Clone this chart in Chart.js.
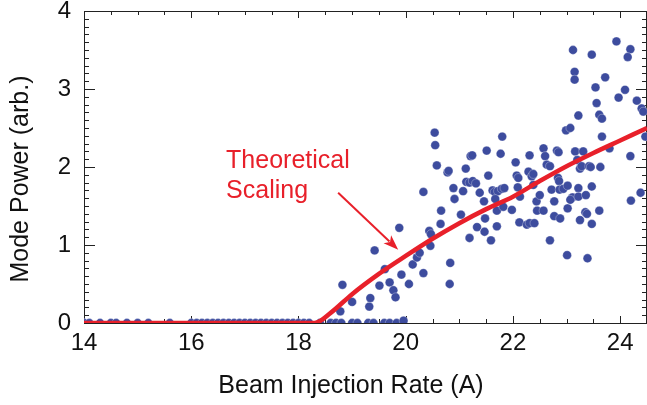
<!DOCTYPE html>
<html>
<head>
<meta charset="utf-8">
<script src="https://cdn.jsdelivr.net/npm/chart.js@4.4.1/dist/chart.umd.min.js"></script>
<style>
  html, body { margin: 0; padding: 0; background: #fff; }
  #wrap { width: 647px; height: 405px; position: relative; }
</style>
</head>
<body>
<div id="wrap"><canvas id="chart"></canvas></div>
<script>
// measured points, x = beam injection rate (A), y = mode power (arb.)
const zeroX = [14.0, 14.1, 14.3, 14.5, 14.6, 14.8, 15.0, 15.2, 15.6, 16.0, 16.1, 16.2, 16.3, 16.4, 16.5,
  16.6, 16.7, 16.8, 16.9, 17.0, 17.1, 17.2, 17.3, 17.4, 17.5, 17.6, 17.7, 17.8, 17.9, 18.0, 18.1, 18.2,
  18.4, 18.6, 18.7, 18.8, 19.0, 19.1, 19.3, 19.4, 19.6, 19.7, 19.83];
const zeroY = zeroX.map(() => 0);

const pointX = [19.96, 18.78, 18.82, 19.00, 19.32, 19.34, 19.42, 19.51, 19.61, 19.70, 19.77, 19.81, 19.88, 19.92,
  20.06, 20.13, 20.21, 20.26, 20.33, 20.33, 20.44, 20.47, 20.46, 20.54, 20.55, 20.58, 20.66, 20.65,
  20.78, 20.80, 20.83, 20.82, 20.89, 20.91, 21.03, 21.07, 21.12, 21.13, 21.19, 21.25, 21.31, 21.21,
  21.24, 21.19, 21.33, 21.38, 21.46, 21.47, 21.48, 21.51, 21.54, 21.59, 21.62, 21.66, 21.72, 21.79,
  21.67, 21.70, 21.70, 21.77, 21.80, 21.82, 21.84, 21.98, 22.05, 22.07, 22.10, 22.13, 22.09, 22.12,
  22.26, 22.31, 22.29, 22.31, 22.35, 22.38, 22.38, 22.40, 22.44, 22.45, 22.50, 22.57, 22.60, 22.57,
  22.63, 22.69, 22.69, 22.72, 22.77, 22.77, 22.82, 22.85, 22.84, 22.86, 22.87, 22.88, 22.94, 22.99,
  23.02, 23.01, 23.02, 23.07, 23.11, 23.07, 23.12, 23.15, 23.15, 23.16, 23.20, 23.22, 23.22, 23.22,
  23.25, 23.28, 23.25, 23.31, 23.35, 23.38, 23.36, 23.39, 23.42, 23.45, 23.47, 23.47, 23.47, 23.54,
  23.56, 23.61, 23.66, 23.63, 23.66, 23.61, 23.72, 23.80, 23.93, 23.97, 24.09, 24.19, 24.14, 24.19,
  24.20, 24.31, 24.40, 24.43, 24.38, 24.47];
const pointY = [0.03, 0.15, 0.49, 0.27, 0.21, 0.32, 0.93, 0.48, 0.69, 0.52, 0.42, 0.33, 1.22, 0.62,
  0.50, 0.75, 0.84, 0.90, 0.64, 1.68, 1.18, 1.14, 0.99, 2.44, 2.28, 2.02, 1.44, 1.27,
  1.93, 1.95, 0.77, 0.50, 1.73, 1.59, 1.39, 1.69, 1.98, 1.81, 1.80, 1.82, 1.79, 2.14,
  2.15, 1.09, 1.23, 1.67, 1.56, 1.17, 1.34, 2.21, 1.89, 1.06, 1.70, 1.68, 1.69, 1.72,
  1.59, 1.44, 1.24, 2.17, 2.39, 1.49, 1.73, 1.45, 2.06, 1.89, 1.86, 1.62, 1.74, 1.29,
  1.26, 1.28, 1.94, 2.15, 1.88, 1.91, 1.77, 1.28, 1.56, 1.44, 1.64, 2.24, 2.14, 1.44,
  2.03, 2.01, 1.06, 1.71, 1.56, 1.37, 2.21, 2.19, 1.86, 1.82, 1.71, 1.34, 1.72, 2.47,
  1.47, 0.87, 1.76, 2.50, 1.61, 1.58, 3.50, 3.22, 3.12, 2.20, 2.09, 1.73, 1.62, 2.66,
  1.98, 2.01, 1.32, 2.20, 1.42, 1.40, 1.64, 0.83, 2.01, 2.00, 1.75, 1.27, 3.44, 3.02,
  2.82, 2.67, 2.62, 2.00, 2.39, 1.44, 3.15, 2.24, 3.61, 2.89, 2.99, 3.51, 3.41, 2.14,
  1.57, 2.85, 2.75, 2.71, 1.67, 2.39];

// theoretical scaling curve
const curveX = [14, 18.3, 18.6, 19.0, 19.5, 20.0, 20.5, 21.0, 21.5, 22.0, 22.5, 23.0, 23.5, 24.0, 24.5];
const curveY = [0, 0, 0.13, 0.37, 0.63, 0.86, 1.08, 1.28, 1.46, 1.62, 1.82, 2.01, 2.18, 2.34, 2.5];

const xTickVals = [14, 16, 18, 20, 22, 24];
const yTickVals = [0, 1, 2, 3, 4];

const xTitle = "Beam Injection Rate (A)";
const yTitle = "Mode Power (arb.)";
const noteLines = ["Theoretical", "Scaling"];
// annotation anchor and arrow, in data units
const notePos = { x: 16.65, y: 1.99 };
const arrowFrom = { x: 18.74, y: 1.67 };
const arrowTo = { x: 19.86, y: 0.94 };

const RED = '#e8202a';
const BLUE = '#3d4c9e';
const FONT = "'Liberation Sans', Arial, Helvetica, sans-serif";

const scatterData = zeroX.map((x, i) => ({ x: x, y: zeroY[i] }))
  .concat(pointX.map((x, i) => ({ x: x, y: pointY[i] })));
const curveData = curveX.map((x, i) => ({ x: x, y: curveY[i] }));

// frame, inward ticks, titles and the annotation
const decor = {
  id: 'decor',
  beforeDatasetsDraw(chart) {
    const ctx = chart.ctx;
    const a = chart.chartArea;
    const xs = chart.scales.x, ys = chart.scales.y;
    ctx.save();
    ctx.strokeStyle = '#222';
    ctx.lineWidth = 1;
    ctx.strokeRect(a.left + 0.5, a.top + 0.5, a.right - a.left - 1, a.bottom - a.top);
    ctx.beginPath();
    for (let v = 14; v <= 24.5 + 1e-6; v += 0.5) {
      const px = Math.round(xs.getPixelForValue(v)) + 0.5;
      const major = Math.abs(v / 2 - Math.round(v / 2)) < 1e-6;
      const len = major ? 7 : 4;
      ctx.moveTo(px, a.bottom); ctx.lineTo(px, a.bottom - len);
      ctx.moveTo(px, a.top); ctx.lineTo(px, a.top + len);
    }
    for (let k = 0; k <= 40; k++) {
      const v = k / 10;
      const py = Math.round(ys.getPixelForValue(v)) + 0.5;
      const len = k % 10 === 0 ? 11 : 5;
      ctx.moveTo(a.left, py); ctx.lineTo(a.left + len, py);
      ctx.moveTo(a.right, py); ctx.lineTo(a.right - len, py);
    }
    ctx.stroke();
    ctx.restore();
  },
  afterDraw(chart) {
    const ctx = chart.ctx;
    const xs = chart.scales.x, ys = chart.scales.y;
    ctx.save();
    ctx.fillStyle = '#111';
    ctx.font = '25px ' + FONT;
    ctx.textAlign = 'center';
    ctx.textBaseline = 'alphabetic';
    ctx.fillText(xTitle, 351, 393);
    ctx.translate(28, 179);
    ctx.rotate(-Math.PI / 2);
    ctx.fillText(yTitle, 0, 0);
    ctx.restore();

    // annotation
    ctx.save();
    ctx.fillStyle = RED;
    ctx.font = '25px ' + FONT;
    ctx.textAlign = 'left';
    const nx = xs.getPixelForValue(notePos.x), ny = ys.getPixelForValue(notePos.y);
    noteLines.forEach((t, i) => ctx.fillText(t, nx, ny + i * 30));
    const x0 = xs.getPixelForValue(arrowFrom.x), y0 = ys.getPixelForValue(arrowFrom.y);
    const x1 = xs.getPixelForValue(arrowTo.x), y1 = ys.getPixelForValue(arrowTo.y);
    const ang = Math.atan2(y1 - y0, x1 - x0);
    const head = 15, half = 5.5;
    ctx.strokeStyle = RED;
    ctx.lineWidth = 2;
    ctx.beginPath();
    ctx.moveTo(x0, y0);
    ctx.lineTo(x1 - head * 0.8 * Math.cos(ang), y1 - head * 0.8 * Math.sin(ang));
    ctx.stroke();
    ctx.beginPath();
    ctx.moveTo(x1, y1);
    ctx.lineTo(x1 - head * Math.cos(ang) + half * Math.sin(ang), y1 - head * Math.sin(ang) - half * Math.cos(ang));
    ctx.lineTo(x1 - head * 0.75 * Math.cos(ang), y1 - head * 0.75 * Math.sin(ang));
    ctx.lineTo(x1 - head * Math.cos(ang) - half * Math.sin(ang), y1 - head * Math.sin(ang) + half * Math.cos(ang));
    ctx.closePath();
    ctx.fill();
    ctx.restore();
  }
};

new Chart(document.getElementById('chart'), {
  type: 'scatter',
  data: {
    datasets: [
      {
        label: 'Theoretical Scaling',
        type: 'line',
        data: curveData,
        borderColor: RED,
        borderWidth: 4.5,
        pointRadius: 0,
        cubicInterpolationMode: 'monotone',
        fill: false
      },
      {
        label: 'Measured',
        data: scatterData,
        backgroundColor: BLUE,
        borderColor: 'rgba(255,255,255,0.5)',
        borderWidth: 0.6,
        pointRadius: 4.4,
        pointHoverRadius: 4.4
      }
    ]
  },
  options: {
    responsive: true,
    maintainAspectRatio: false,
    animation: false,
    layout: { autoPadding: false, padding: { top: 11, right: 0, left: 0, bottom: 0 } },
    plugins: { legend: { display: false }, tooltip: { enabled: false } },
    scales: {
      x: {
        type: 'linear',
        min: 14,
        max: 24.5,
        afterFit: s => { s.height = 82; s.paddingLeft = 0; s.paddingRight = 0; },
        afterBuildTicks: s => { s.ticks = xTickVals.map(v => ({ value: v })); },
        grid: { display: false, drawTicks: false },
        border: { display: false },
        ticks: { color: '#111', font: { family: FONT, size: 24 }, padding: 6, maxRotation: 0, autoSkip: false }
      },
      y: {
        type: 'linear',
        min: 0,
        max: 4,
        afterFit: s => { s.width = 84; s.paddingTop = 0; s.paddingBottom = 0; },
        afterBuildTicks: s => { s.ticks = yTickVals.map(v => ({ value: v })); },
        grid: { display: false, drawTicks: false },
        border: { display: false },
        ticks: { color: '#111', font: { family: FONT, size: 24 }, padding: 13 }
      }
    }
  },
  plugins: [decor]
});
</script>
</body>
</html>
